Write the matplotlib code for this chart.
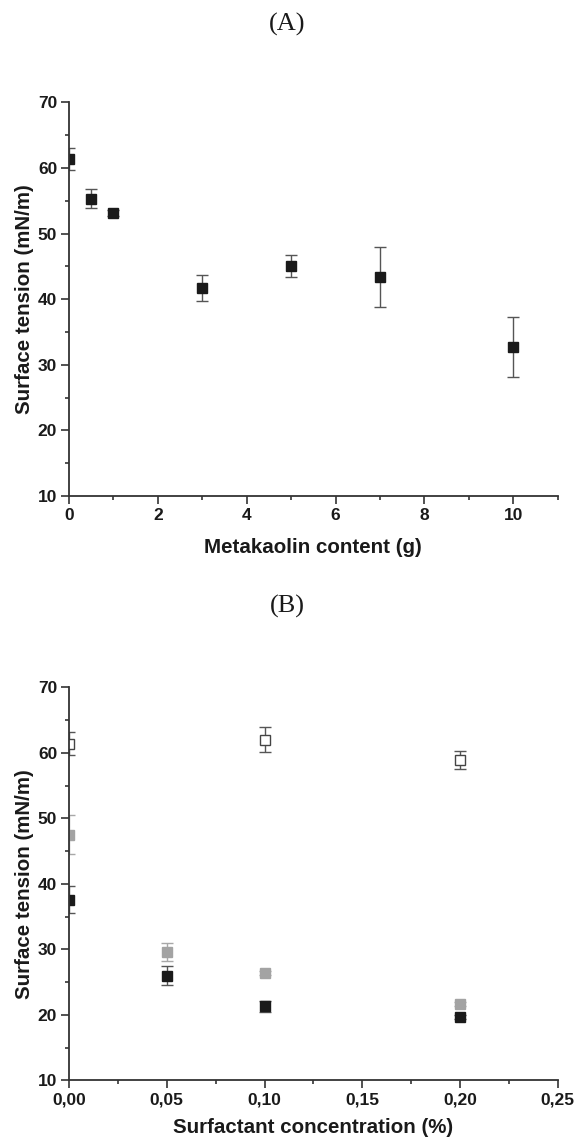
import numpy as np
import matplotlib
matplotlib.use("Agg")
import matplotlib.pyplot as plt
from matplotlib.ticker import MultipleLocator, FuncFormatter

# Panel A - metakaolin content
mk_content = [0, 0.5, 1, 3, 5, 7, 10]
mk_tension = [61.4, 55.3, 53.1, 41.7, 45.0, 43.4, 32.7]
mk_err = [1.7, 1.45, 0.5, 2.0, 1.7, 4.6, 4.6]

# Panel B - surfactant concentration, three series
open_conc = [0, 0.10, 0.20]
open_tension = [61.4, 62.0, 58.9]
open_err = [1.7, 1.9, 1.3]

gray_conc = [0, 0.05, 0.10, 0.20]
gray_tension = [47.5, 29.6, 26.4, 21.6]
gray_err = [3.0, 1.35, 0.3, 0.3]

black_conc = [0, 0.05, 0.10, 0.20]
black_tension = [37.6, 26.0, 21.3, 19.7]
black_err = [2.0, 1.5, 0.8, 0.3]

plt.rcParams['font.family'] = ['Liberation Sans', 'DejaVu Sans']

fig = plt.figure(figsize=(5.75, 11.42), dpi=100)
axA = fig.add_axes([0.12, 0.5657, 0.85, 0.3447])
axB = fig.add_axes([0.12, 0.0539, 0.85, 0.3443])

ecol = '#555555'
ink = '#1a1a1a'


def style(ax):
    for s in ['top', 'right']:
        ax.spines[s].set_visible(False)
    for s in ['left', 'bottom']:
        ax.spines[s].set_color('#333333')
        ax.spines[s].set_linewidth(1.3)
    ax.tick_params(which='major', direction='out', length=5.5, width=1.2, color='#333333',
                   labelsize=12.5, labelcolor=ink, pad=3)
    ax.tick_params(which='minor', direction='out', length=3, width=1.2, color='#333333')
    for lab in ax.get_xticklabels() + ax.get_yticklabels():
        lab.set_fontweight('bold')
    ax.set_ylim(10, 70)
    ax.yaxis.set_major_locator(MultipleLocator(10))
    ax.yaxis.set_minor_locator(MultipleLocator(5))
    ax.set_ylabel('Surface tension (mN/m)', fontsize=14.8, fontweight='bold', color=ink, labelpad=3)


# (A)
axA.errorbar(mk_content, mk_tension, yerr=mk_err, fmt='s', color=ink, ms=7.5,
             ecolor=ecol, elinewidth=1, capsize=4, capthick=1)
axA.set_xlim(0, 11)
axA.xaxis.set_major_locator(MultipleLocator(2))
axA.xaxis.set_minor_locator(MultipleLocator(1))
axA.set_xlabel('Metakaolin content (g)', fontsize=14.8, fontweight='bold', color=ink, labelpad=11)
style(axA)

# (B)
axB.errorbar(open_conc, open_tension, yerr=open_err, fmt='s', mfc='white', mec='#444444',
             mew=1, color='#444444', ms=7.5, ecolor=ecol, elinewidth=1, capsize=4, capthick=1)
axB.errorbar(gray_conc, gray_tension, yerr=gray_err, fmt='s', color='#a3a3a3', ms=7.5,
             ecolor='#a8a8a8', elinewidth=1, capsize=4, capthick=1)
axB.errorbar(black_conc, black_tension, yerr=black_err, fmt='s', color=ink, ms=7.5,
             ecolor=ecol, elinewidth=1, capsize=4, capthick=1)
axB.set_xlim(0, 0.25)
axB.xaxis.set_major_locator(MultipleLocator(0.05))
axB.xaxis.set_minor_locator(MultipleLocator(0.025))
axB.xaxis.set_major_formatter(FuncFormatter(lambda v, p: ('%.2f' % v).replace('.', ',')))
axB.set_xlabel('Surfactant concentration (%)', fontsize=14.8, fontweight='bold', color=ink, labelpad=8)
style(axB)

fig.text(0.5, 0.979, '(A)', ha='center', va='center', fontsize=19, family='Liberation Serif', color=ink)
fig.text(0.5, 0.469, '(B)', ha='center', va='center', fontsize=19, family='Liberation Serif', color=ink)

fig.savefig('out.png', dpi=100)
